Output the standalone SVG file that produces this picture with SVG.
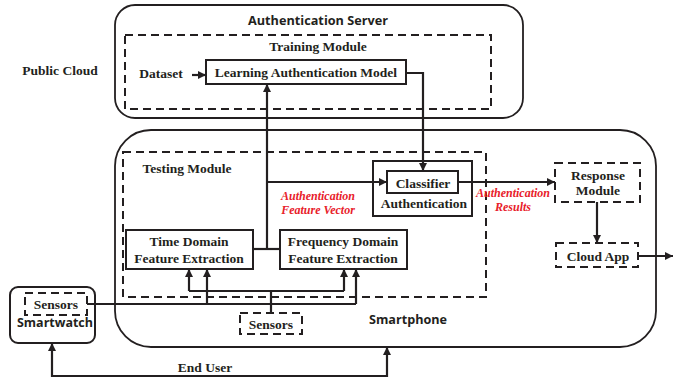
<svg xmlns="http://www.w3.org/2000/svg" width="686" height="380" viewBox="0 0 686 380">
<defs>
<marker id="ah" viewBox="0 0 10 10" refX="10" refY="5" markerWidth="8" markerHeight="8" markerUnits="userSpaceOnUse" orient="auto-start-reverse">
<path d="M0,0 L10,5 L0,10 z" fill="#231f20"/>
</marker>
<style>
.outer{fill:none;stroke:#231f20;stroke-width:1.8}
.box{fill:#fff;stroke:#231f20;stroke-width:2}
.dash{fill:none;stroke:#231f20;stroke-width:2;stroke-dasharray:8 5}
.dashw{fill:#fff;stroke:#231f20;stroke-width:2;stroke-dasharray:8 5}
.ln{fill:none;stroke:#231f20;stroke-width:2.2}
.arr{fill:none;stroke:#231f20;stroke-width:2.2;marker-end:url(#ah)}
.s{font-family:"Liberation Serif","Times New Roman",serif;font-weight:bold;font-size:13.5px;fill:#231f20;text-anchor:middle}
.sa{font-family:"Open Sans","Liberation Sans",sans-serif;font-weight:bold;font-size:13px;fill:#231f20}
.r{font-family:"Liberation Serif","Times New Roman",serif;font-weight:bold;font-style:italic;font-size:12px;fill:#e8202a;text-anchor:middle}
</style>
</defs>
<rect width="686" height="380" fill="#fff"/>

<g id="public-cloud-label"><text class="s" x="60" y="75">Public Cloud</text></g>

<g id="auth-server">
<rect class="outer" x="115" y="5" width="408" height="113" rx="20"/>
<text class="sa" x="248" y="25" textLength="140" lengthAdjust="spacingAndGlyphs">Authentication Server</text>
</g>
<g id="training-module">
<rect class="dash" x="125" y="35" width="366" height="74"/>
<text class="s" x="318" y="51">Training Module</text>
</g>
<g id="dataset"><text class="s" x="161" y="78">Dataset</text></g>
<g id="learning-model">
<rect class="box" x="206" y="60" width="200" height="24"/>
<text class="s" x="306" y="77">Learning Authentication Model</text>
</g>

<g id="smartphone">
<rect class="outer" x="115" y="130" width="541" height="217" rx="36"/>
<text class="sa" x="369" y="324" textLength="78" lengthAdjust="spacingAndGlyphs">Smartphone</text>
</g>
<g id="testing-module">
<rect class="dash" x="123" y="152" width="363" height="145"/>
<text class="s" x="187" y="173">Testing Module</text>
</g>
<g id="auth-block">
<rect class="box" x="373" y="161" width="99" height="55"/>
<text class="s" x="424" y="208">Authentication</text>
</g>
<g id="classifier">
<rect class="box" x="387" y="171" width="71" height="22"/>
<text class="s" x="423" y="188">Classifier</text>
</g>
<g id="time-domain">
<rect class="box" x="126" y="230" width="127" height="39"/>
<text class="s" x="189" y="246">Time Domain</text>
<text class="s" x="189" y="263">Feature Extraction</text>
</g>
<g id="freq-domain">
<rect class="box" x="280" y="230" width="127" height="39"/>
<text class="s" x="343" y="246">Frequency Domain</text>
<text class="s" x="343" y="263">Feature Extraction</text>
</g>
<g id="response-module">
<rect class="dashw" x="555" y="163" width="85" height="39"/>
<text class="s" x="598" y="180">Response</text>
<text class="s" x="598" y="195">Module</text>
</g>
<g id="cloud-app">
<rect class="dashw" x="556" y="243" width="82" height="24"/>
<text class="s" x="598" y="261">Cloud App</text>
</g>
<g id="phone-sensors">
<rect class="dashw" x="240" y="313" width="62" height="21"/>
<text class="s" x="271" y="329">Sensors</text>
</g>
<g id="smartwatch">
<rect class="box" x="10" y="287" width="85" height="56" rx="8"/>
<rect class="dash" x="25" y="293" width="62" height="22"/>
<text class="s" x="56" y="309">Sensors</text>
<text class="sa" x="17" y="327" textLength="76" lengthAdjust="spacingAndGlyphs">Smartwatch</text>
</g>

<g id="connectors">
<path class="arr" d="M192,75 L206,75"/>
<path class="arr" d="M406,73 L423,73 L423,171"/>
<path class="arr" d="M267,249 L267,84"/>
<path class="ln" d="M253,249 L280,249"/>
<path class="arr" d="M267,182 L387,182"/>
<path class="arr" d="M458,182 L555,182"/>
<path class="arr" d="M597,202 L597,243"/>
<path class="arr" d="M638,256 L673,256"/>
<path class="ln" d="M271,313 L271,291"/>
<path class="ln" d="M189,291 L344,291"/>
<path class="arr" d="M189,291 L189,269"/>
<path class="arr" d="M344,291 L344,269"/>
<path class="ln" d="M87,304 L356,304"/>
<path class="arr" d="M207,304 L207,269"/>
<path class="arr" d="M356,304 L356,269"/>
<path class="ln" d="M52,343 L52,376 L387,376 L387,347" style="marker-start:url(#ah);marker-end:url(#ah)"/>
</g>

<g id="labels">
<text class="r" x="318" y="200">Authentication</text>
<text class="r" x="318" y="214">Feature Vector</text>
<text class="r" x="513" y="197">Authentication</text>
<text class="r" x="513" y="211">Results</text>
<text class="s" x="205" y="372">End User</text>
</g>
</svg>
